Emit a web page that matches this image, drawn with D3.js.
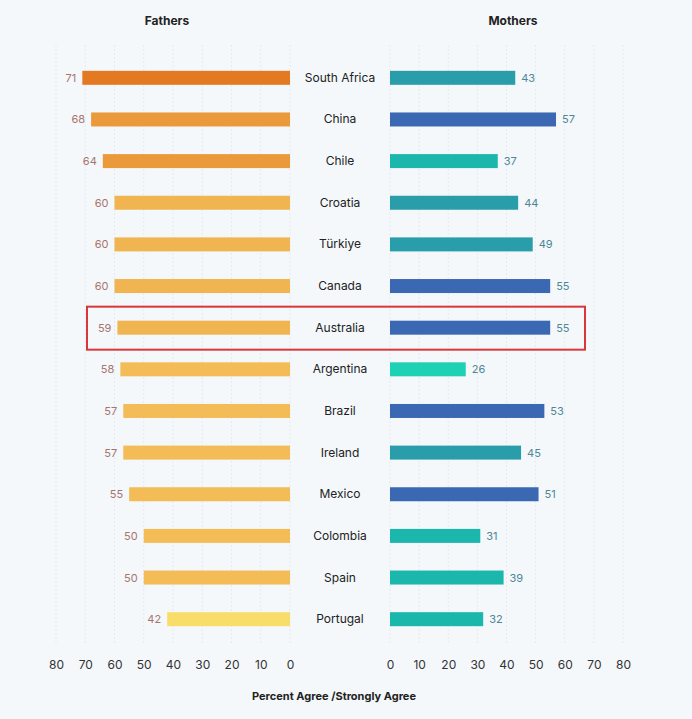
<!DOCTYPE html>
<html><head><meta charset="utf-8">
<script src="https://cdn.jsdelivr.net/npm/d3@7"></script>
<style>body{margin:0;background:#f4f8fb;font-family:Inter,"Open Sans",sans-serif}</style>
</head><body><div id="chart"></div>
<script>
var countries = ["South Africa","China","Chile","Croatia","Türkiye","Canada","Australia","Argentina","Brazil","Ireland","Mexico","Colombia","Spain","Portugal"];
var fathers = [71,68,64,60,60,60,59,58,57,57,55,50,50,42];
var mothers = [43,57,37,44,49,55,55,26,53,45,51,31,39,32];
var ticks = [0,10,20,30,40,50,60,70,80];
var highlight = "Australia";

var W = 692, H = 719;
var svg = d3.select("#chart").append("svg").attr("width", W).attr("height", H);
svg.append("rect").attr("width", W).attr("height", H).attr("fill", "#f4f8fb");

var xL = d3.scaleLinear().domain([0,80]).range([290,56]);
var xR = d3.scaleLinear().domain([0,80]).range([390,623]);
var y = d3.scaleBand().domain(countries).range([57,640]).paddingInner(0.66).paddingOuter(0.33);

var fColor = d3.scaleThreshold().domain([45,59,61,70]).range(["#f9dd6b","#f3bc56","#f0b550","#ea9a3a","#e37a22"]);
var mColor = function(v){ return v >= 50 ? "#3b68b2" : v >= 42 ? "#2a9dab" : v < 30 ? "#1ed0b4" : "#1bb7ad"; };

// grid
[xL, xR].forEach(function(x){
  svg.append("g").selectAll("line").data(ticks).join("line")
    .attr("x1", d => x(d)).attr("x2", d => x(d)).attr("y1", 45).attr("y2", 643)
    .attr("stroke", "#e3eaf1").attr("stroke-dasharray", "2,2");
});

// axes
[xL, xR].forEach(function(x){
  var g = svg.append("g").attr("transform", "translate(0,660)")
    .call(d3.axisBottom(x).tickValues(ticks).tickSize(0).tickPadding(0));
  g.select(".domain").remove();
  g.selectAll("text").attr("font-size", 12).attr("fill", "#333").attr("font-family", "Inter,sans-serif");
});

var bh = 14;
svg.append("g").selectAll("rect").data(countries).join("rect")
  .attr("x", (d,i) => xL(fathers[i])).attr("y", d => y(d) + y.bandwidth()/2 - bh/2)
  .attr("width", (d,i) => xL(0) - xL(fathers[i])).attr("height", bh)
  .attr("fill", (d,i) => fColor(fathers[i]));
svg.append("g").selectAll("text").data(countries).join("text")
  .attr("x", (d,i) => xL(fathers[i]) - 6).attr("y", d => y(d) + y.bandwidth()/2 + 4)
  .attr("text-anchor", "end").attr("font-size", 11).attr("fill", "#a8756c")
  .text((d,i) => fathers[i]);

svg.append("g").selectAll("rect").data(countries).join("rect")
  .attr("x", xR(0)).attr("y", d => y(d) + y.bandwidth()/2 - bh/2)
  .attr("width", (d,i) => xR(mothers[i]) - xR(0)).attr("height", bh)
  .attr("fill", (d,i) => mColor(mothers[i]));
svg.append("g").selectAll("text").data(countries).join("text")
  .attr("x", (d,i) => xR(mothers[i]) + 6).attr("y", d => y(d) + y.bandwidth()/2 + 4)
  .attr("font-size", 11).attr("fill", "#4d8796")
  .text((d,i) => mothers[i]);

svg.append("g").selectAll("text").data(countries).join("text")
  .attr("x", 340).attr("y", d => y(d) + y.bandwidth()/2 + 4)
  .attr("text-anchor", "middle").attr("font-size", 12).attr("fill", "#222")
  .text(d => d);

var hy = y(highlight) + y.bandwidth()/2;
svg.append("rect").attr("x", 87).attr("y", hy - 21).attr("width", 498).attr("height", 43)
  .attr("fill", "none").attr("stroke", "#d9373a").attr("stroke-width", 2);

svg.append("text").attr("x", 167).attr("y", 25).attr("text-anchor", "middle")
  .attr("font-size", 12).attr("font-weight", "bold").attr("fill", "#222").text("Fathers");
svg.append("text").attr("x", 513).attr("y", 25).attr("text-anchor", "middle")
  .attr("font-size", 12).attr("font-weight", "bold").attr("fill", "#222").text("Mothers");
svg.append("text").attr("x", 334).attr("y", 700).attr("text-anchor", "middle")
  .attr("font-size", 11).attr("font-weight", "bold").attr("fill", "#222").text("Percent Agree /Strongly Agree");
</script></body></html>
